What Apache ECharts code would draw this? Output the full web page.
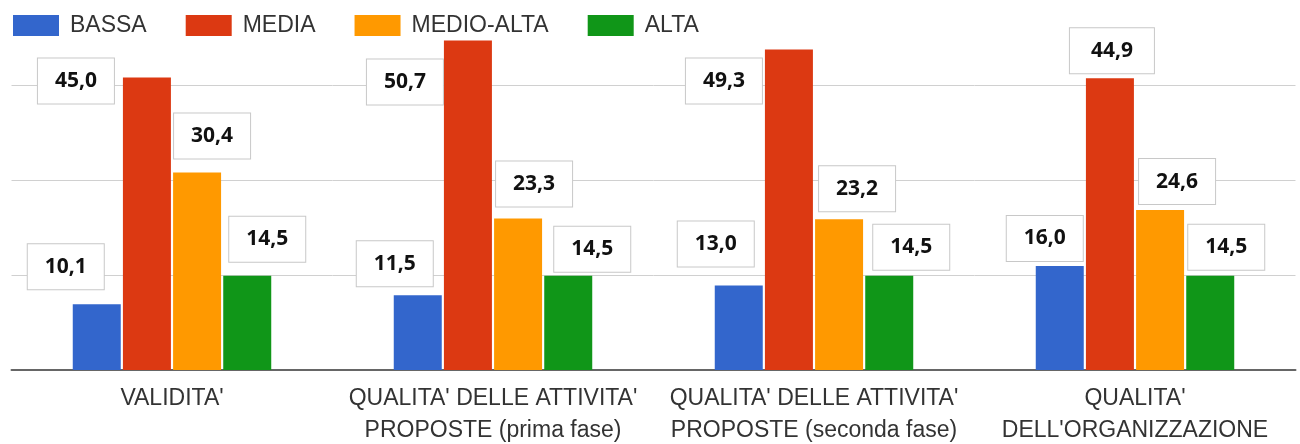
<!DOCTYPE html>
<html>
<head>
<meta charset="utf-8">
<script src="https://cdn.jsdelivr.net/npm/echarts@6/dist/echarts.min.js"></script>
<style>
  html, body { margin: 0; padding: 0; background: #fff; }
  #chart { width: 1300px; height: 444px; }
</style>
</head>
<body>
<div id="chart"></div>
<script>
// ---- data ----
const categories = [
  "VALIDITA'",
  "QUALITA' DELLE ATTIVITA'\nPROPOSTE (prima fase)",
  "QUALITA' DELLE ATTIVITA'\nPROPOSTE (seconda fase)",
  "QUALITA'\nDELL'ORGANIZZAZIONE"
];
const seriesNames = ['BASSA', 'MEDIA', 'MEDIO-ALTA', 'ALTA'];
const bassa     = [10.1, 11.5, 13.0, 16.0];
const media     = [45.0, 50.7, 49.3, 44.9];
const medioAlta = [30.4, 23.3, 23.2, 24.6];
const alta      = [14.5, 14.5, 14.5, 14.5];

// ---- layout (label box offsets relative to bar top-center) ----
const labelOffsets = [
  [[-31, -15], [-23, -9], [-23, -19], [-15, -5]],
  [[-71, 26], [-63, 64], [-65, 54], [2, -5]],
  [[15, -14], [16, -12], [18, -8], [17, -6]],
  [[20, -14], [24, -4], [22, -6], [16, -6]]
];
const labelWidths = [
  [76, 76, 76, 76],
  [76, 76, 76, 84],
  [76, 76, 76, 76],
  [76, 76, 76, 76]
];
const colors = ['#3366cc', '#dc3912', '#ff9900', '#109618'];
const allValues = [bassa, media, medioAlta, alta];

const fmt = v => v.toFixed(1).replace('.', ',');

const series = allValues.map((vals, si) => ({
  name: seriesNames[si],
  type: 'bar',
  barWidth: 48,
  barGap: '4.5%',
  itemStyle: { color: colors[si] },
  label: {
    show: true,
    position: 'top',
    distance: 0,
    formatter: p => fmt(p.value),
    fontFamily: 'Open Sans',
    fontWeight: 'bold',
    fontSize: 21,
    color: '#111',
    backgroundColor: '#fff',
    borderColor: '#c8c8c8',
    borderWidth: 1,
    padding: 0,
    width: 76,
    height: 45,
    lineHeight: 45,
    align: 'center'
  },
  data: vals.map((v, ci) => ({
    value: v,
    label: { offset: labelOffsets[si][ci], width: labelWidths[si][ci] }
  }))
}));

const chart = echarts.init(document.getElementById('chart'), null, { renderer: 'canvas' });
chart.setOption({
  animation: false,
  backgroundColor: '#fff',
  color: colors,
  legend: {
    data: seriesNames,
    left: 8,
    top: 9,
    itemWidth: 46,
    itemHeight: 21,
    itemGap: 39,
    icon: 'rect',
    textStyle: {
      fontFamily: 'Liberation Sans, Arial, sans-serif',
      fontSize: 23,
      color: '#333',
      padding: [0, 0, 0, 6]
    }
  },
  grid: {
    left: 11.5,
    right: 4.5,
    top: 10,
    bottom: 74,
    containLabel: false,
    outerBoundsMode: 'none'
  },
  xAxis: {
    type: 'category',
    data: categories,
    axisTick: { show: false },
    axisLine: { show: true, lineStyle: { color: '#666', width: 2 } },
    axisLabel: {
      interval: 0,
      margin: 13,
      fontFamily: 'Liberation Sans, Arial, sans-serif',
      fontSize: 23,
      lineHeight: 32,
      color: '#333'
    }
  },
  yAxis: {
    type: 'value',
    min: 0,
    max: 360 / 6.5,
    interval: 14.6,
    axisLabel: { show: false },
    axisLine: { show: false },
    axisTick: { show: false },
    splitLine: {
      show: true,
      showMaxLine: false,
      lineStyle: { color: '#d0d0d0', width: 1 }
    }
  },
  series: series
});
</script>
</body>
</html>
